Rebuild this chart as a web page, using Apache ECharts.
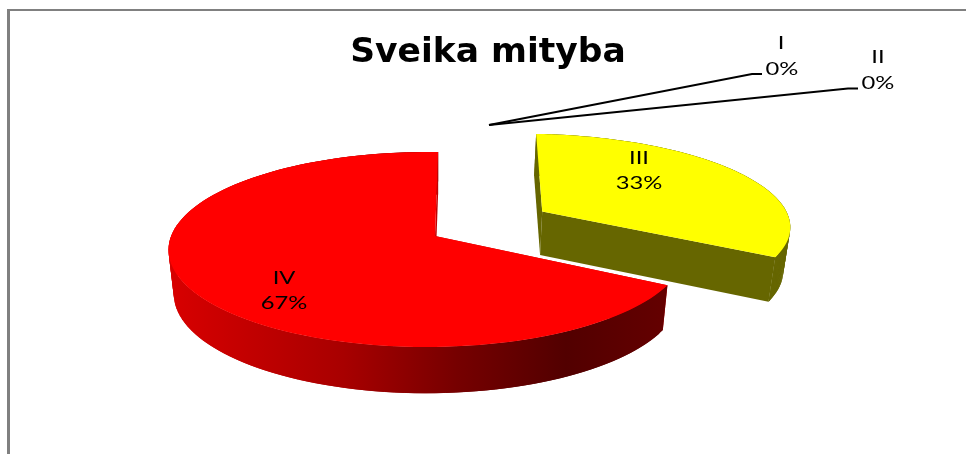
<!DOCTYPE html>
<html><head><meta charset="utf-8">
<style>html,body{margin:0;padding:0;background:#fff}#c{width:966px;height:454px}</style>
<script src="https://cdn.jsdelivr.net/npm/echarts@6/dist/echarts.min.js"></script>
</head><body><div id="c"></div>
<script>
const chartTitle = 'Sveika mityba';
const categories = ['I', 'II', 'III', 'IV'];
const values = [0, 0, 33, 67];

// 3D projection of the pie disc
const apex = [435, 236], scaleA = 256, scaleB = 95.6, persY = 0.1385, persX = 0.03;
const startDeg = 0.8, wallDepth = 44, wallSx = 0.98, wallSy = 1.02;
const explode = { 2: [0.44, -0.27] };
const stretch = { 2: 1.045 };
const shear = { 2: -0.05 };
const faceColors = { 2: '#ffff00', 3: '#ff0000' };
const edgeColors = { 2: '#666600', 3: '#c00000' };
const labelPos = { 0: [[781, 43], [782, 69]], 1: [[878, 57], [878, 83]], 2: [[639, 158], [639, 183]], 3: [[284, 278], [284, 303]] };
const leaders = { 0: [[489, 125], [752, 74], [762, 74]], 1: [[489, 125], [848, 88.5], [858, 88.5]] };

const total = values.reduce((a, b) => a + b, 0);
function project(X, Y) {
  const w = 1 - persY * Y + persX * X;
  return [apex[0] + scaleA * X / w, apex[1] + scaleB * Y / w];
}
function lower(p) {
  return [apex[0] + wallSx * (p[0] - apex[0]), apex[1] + wallSy * (p[1] - apex[1]) + wallDepth];
}
function redWall() {
  return { type: 'linear', global: true, x: 170, y: 0, x2: 665, y2: 0, colorStops: [
    { offset: 0, color: '#d80000' }, { offset: 0.35, color: '#a80000' }, { offset: 0.58, color: '#760000' },
    { offset: 0.8, color: '#520000' }, { offset: 1, color: '#640000' }] };
}
function renderItem(params, api) {
  const i = params.dataIndex, v = api.value(0);
  const kids = [];
  const pct = Math.round(v / total * 100) + '%';
  if (leaders[i]) kids.push({ type: 'polyline', shape: { points: leaders[i] }, style: { stroke: '#000', lineWidth: 2, fill: null } });
  if (v > 0) {
    let before = 0;
    for (let k = 0; k < i; k++) before += values[k];
    const a0 = startDeg + before / total * 360, a1 = a0 + v / total * 360;
    const off = explode[i] || [0, 0];
    const c = project(off[0], off[1]);
    const st = stretch[i] || 1, sh = shear[i] || 0;
    const arc = [];
    for (let a = a0; a <= a1 + 1e-6; a += (a1 - a0) / 120) {
      const r = a * Math.PI / 180;
      const p = project(off[0] + Math.sin(r), off[1] - Math.cos(r));
      arc.push([c[0] + st * (p[0] - c[0]) + sh * (p[1] - c[1]), p[1]]);
    }
    const arcLow = arc.map(lower), cLow = lower(c);
    const wallFill = i === 3 ? redWall() : edgeColors[i];
    const n = arc.length - 1;
    kids.push({ type: 'polygon', shape: { points: [c, arc[0], arcLow[0], cLow] }, style: { fill: edgeColors[i] } });
    for (let k = 0; k < n; k++) {
      const e = Math.min(k + 2, n);
      kids.push({ type: 'polygon', shape: { points: [arc[k], arc[e], arcLow[e], arcLow[k]] }, style: { fill: wallFill } });
    }
    kids.push({ type: 'polygon', shape: { points: [c, arc[n], arcLow[n], cLow] }, style: { fill: edgeColors[i] } });
    kids.push({ type: 'polygon', shape: { points: [c].concat(arc) }, style: { fill: faceColors[i] } });
  }
  [categories[i], pct].forEach((t, n) => {
    const p = labelPos[i][n];
    kids.push({ type: 'text', x: p[0], y: p[1], scaleX: 1.32, z2: 50, style: { text: t, fontFamily: 'Lato', fontSize: 18, fill: '#000', align: 'center', verticalAlign: 'middle' } });
  });
  return { type: 'group', children: kids };
}
const chart = echarts.init(document.getElementById('c'), null, { renderer: 'canvas' });
chart.setOption({
  animation: false,
  backgroundColor: '#fff',
  title: { text: chartTitle, left: 483, top: 31, textAlign: 'center', textStyle: { fontFamily: 'DejaVu Sans', fontWeight: 'bold', fontSize: 34.5, color: '#000' } },
  graphic: [
    { type: 'rect', shape: { x: 7, y: 9, width: 959, height: 2 }, style: { fill: '#808080' } },
    { type: 'rect', shape: { x: 7, y: 9, width: 3, height: 445 }, style: { fill: '#808080' } }
  ],
  series: [{ type: 'custom', coordinateSystem: 'none', renderItem, data: categories.map((c, i) => ({ name: c, value: values[i] })) }]
});
</script></body></html>
